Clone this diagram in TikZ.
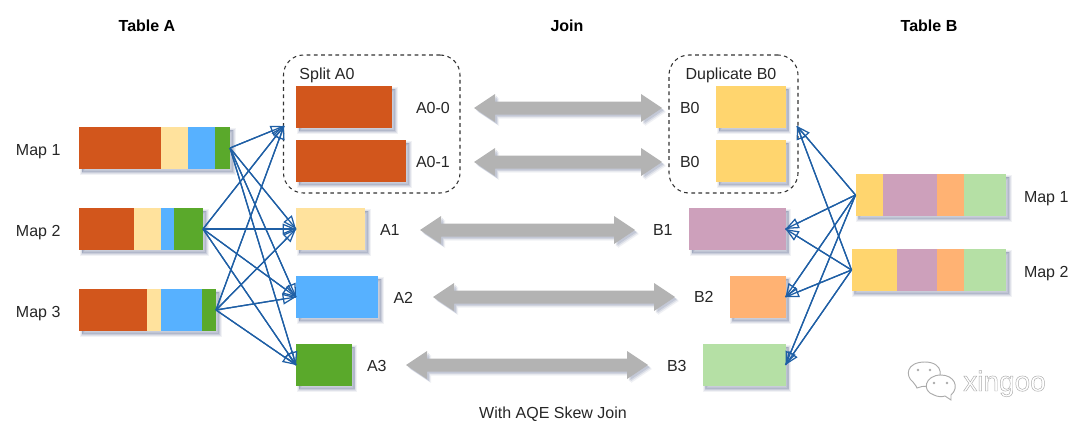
\documentclass[tikz,border=0pt]{standalone}
\usepackage{fontspec}
\setmainfont{Liberation Sans}
\usetikzlibrary{arrows.meta,calc}
\definecolor{cred}{HTML}{D2561C}
\definecolor{ccream}{HTML}{FFE29D}
\definecolor{cblue}{HTML}{57B1FF}
\definecolor{cgreen}{HTML}{5AA92B}
\definecolor{cyellow}{HTML}{FFD56E}
\definecolor{cmauve}{HTML}{CDA0BB}
\definecolor{corange}{HTML}{FFB273}
\definecolor{clgreen}{HTML}{B5E0A5}
\definecolor{cgray}{HTML}{B3B3B3}
\definecolor{clink}{HTML}{1F5FA5}
\definecolor{cshadow}{HTML}{3A4A78}
\definecolor{cmark}{HTML}{ABABAB}
\tikzset{
  softshadow/.style={
    preaction={fill=cshadow,fill opacity=.07,draw=cshadow,draw opacity=.07,line width=3.6pt,transform canvas={shift={(2.4pt,-2.4pt)}}},
    preaction={fill=cshadow,fill opacity=.10,draw=cshadow,draw opacity=.10,line width=2pt,transform canvas={shift={(2.4pt,-2.4pt)}}},
    preaction={fill=cshadow,fill opacity=.13,draw=cshadow,draw opacity=.13,line width=.6pt,transform canvas={shift={(2.2pt,-2.2pt)}}}},
  blk/.style={inner sep=0pt,outer sep=0pt,draw=none},
  lab/.style={inner sep=0pt,outer sep=0pt,font=\fontsize{12pt}{14pt}\selectfont,text=black!85},
  title/.style={inner sep=0pt,outer sep=0pt,font=\fontsize{12pt}{14pt}\selectfont\bfseries,text=black},
  groupbox/.style={draw=black!80,line width=.8pt,dash pattern=on 2.8pt off 2.6pt,rounded corners=15pt,inner sep=0pt,outer sep=0pt},
  link/.style={draw=clink,line width=.95pt,preaction={draw=clink,line width=.95pt,-},
    -{Triangle[open,length=10pt,width=8pt,line width=.95pt]}},
  joinarrow/.style={fill=cgray,draw=none,
    preaction={fill=cshadow,fill opacity=.08,transform canvas={shift={(3pt,-3pt)}}},
    preaction={fill=cshadow,fill opacity=.12,transform canvas={shift={(2.2pt,-2.2pt)}}},
    preaction={fill=cshadow,fill opacity=.14,transform canvas={shift={(1.4pt,-1.4pt)}}}}
}
\newcommand{\mkblk}[7]{%
  \pgfmathsetmacro{\blkw}{(#4-#2)*.75}%
  \pgfmathsetmacro{\blkh}{(#5-#3)*.75}%
  \node[blk,fill=#6,minimum width=\blkw pt,minimum height=\blkh pt,#7] (#1) at ({(#2+#4)/2},{(#3+#5)/2}) {};}
\newcommand{\joinarr}[2]{%
  \path[joinarrow] (#1) -- ($(#1)+(21,-14)$) -- ($(#1)+(21,-6.5)$) -- ($(#2)+(-21,-6.5)$) -- ($(#2)+(-21,-14)$)
    -- (#2) -- ($(#2)+(-21,14)$) -- ($(#2)+(-21,6.5)$) -- ($(#1)+(21,6.5)$) -- ($(#1)+(21,14)$) -- cycle;}
\begin{document}
\begin{tikzpicture}[x=.75pt,y=-.75pt]
\useasboundingbox (0,0) rectangle (1080,432);

% titles
\node[title,anchor=base] (ttA) at (147,31.5) {Table A};
\node[title,anchor=base] (ttJ) at (567,31.5) {Join};
\node[title,anchor=base] (ttB) at (929,31.5) {Table B};
\node[lab,anchor=base] (cap) at (553,418) {With AQE Skew Join};

% group boxes
\mkblk{splitbox}{283.5}{55}{460}{193}{none}{groupbox}
\mkblk{dupbox}{669}{55}{798}{193}{none}{groupbox}
\node[lab,anchor=base] (splitlab) at (327,79.5) {Split A0};
\node[lab,anchor=base] (duplab) at (731,79.5) {Duplicate B0};
\coordinate (splitin) at (284,126);
\coordinate (dupin) at (797,126);

% left maps
\mkblk{mlA}{79}{127}{230}{169}{white}{softshadow}
\mkblk{mlAa}{79}{127}{160.5}{169}{cred}{}
\mkblk{mlAb}{160.5}{127}{188}{169}{ccream}{}
\mkblk{mlAc}{188}{127}{215}{169}{cblue}{}
\mkblk{mlAd}{215}{127}{230}{169}{cgreen}{}
\mkblk{mlB}{79}{208}{203}{250}{white}{softshadow}
\mkblk{mlBa}{79}{208}{133.5}{250}{cred}{}
\mkblk{mlBb}{133.5}{208}{161}{250}{ccream}{}
\mkblk{mlBc}{161}{208}{174}{250}{cblue}{}
\mkblk{mlBd}{174}{208}{203}{250}{cgreen}{}
\mkblk{mlC}{79}{289}{216}{331}{white}{softshadow}
\mkblk{mlCa}{79}{289}{147}{331}{cred}{}
\mkblk{mlCb}{147}{289}{161}{331}{ccream}{}
\mkblk{mlCc}{161}{289}{202}{331}{cblue}{}
\mkblk{mlCd}{202}{289}{216}{331}{cgreen}{}
\node[lab,anchor=base west] (lmA) at (16,155) {Map 1};
\node[lab,anchor=base west] (lmB) at (16,236.5) {Map 2};
\node[lab,anchor=base west] (lmC) at (16,317.5) {Map 3};

% A partitions
\mkblk{azero}{296}{86}{392}{128}{cred}{softshadow}
\mkblk{aone}{296}{140}{406}{182}{cred}{softshadow}
\mkblk{aA}{296}{208}{365}{250}{ccream}{softshadow}
\mkblk{aB}{296}{276}{378}{318}{cblue}{softshadow}
\mkblk{aC}{296}{344}{351.5}{386}{cgreen}{softshadow}
\node[lab,anchor=west] (lazero) at (416,108) {A0-0};
\node[lab,anchor=west] (laone) at (416,162) {A0-1};
\node[lab,anchor=west] (laA) at (380,230) {A1};
\node[lab,anchor=west] (laB) at (393.5,298) {A2};
\node[lab,anchor=west] (laC) at (367,366) {A3};

% B partitions
\mkblk{bzero}{716}{86}{785.5}{128}{cyellow}{softshadow}
\mkblk{bone}{716}{140}{785.5}{182}{cyellow}{softshadow}
\mkblk{bA}{689}{208}{785.5}{250}{cmauve}{softshadow}
\mkblk{bB}{729.5}{276}{785.5}{318}{corange}{softshadow}
\mkblk{bC}{702.5}{344}{785.5}{386}{clgreen}{softshadow}
\node[lab,anchor=west] (lbzero) at (680,108) {B0};
\node[lab,anchor=west] (lbone) at (680,162) {B0};
\node[lab,anchor=west] (lbA) at (653,230) {B1};
\node[lab,anchor=west] (lbB) at (694,297) {B2};
\node[lab,anchor=west] (lbC) at (667,366) {B3};

% right maps
\mkblk{mrA}{855.5}{174}{1006}{216}{white}{softshadow}
\mkblk{mrAa}{855.5}{174}{883}{216}{cyellow}{}
\mkblk{mrAb}{883}{174}{936.5}{216}{cmauve}{}
\mkblk{mrAc}{936.5}{174}{964}{216}{corange}{}
\mkblk{mrAd}{964}{174}{1006}{216}{clgreen}{}
\mkblk{mrB}{851.5}{249}{1006}{291}{white}{softshadow}
\mkblk{mrBa}{851.5}{249}{896.5}{291}{cyellow}{}
\mkblk{mrBb}{896.5}{249}{936.5}{291}{cmauve}{}
\mkblk{mrBc}{936.5}{249}{964}{291}{corange}{}
\mkblk{mrBd}{964}{249}{1006}{291}{clgreen}{}
\node[lab,anchor=base west] (rmA) at (1024,202) {Map 1};
\node[lab,anchor=base west] (rmB) at (1024,277) {Map 2};

% join arrows
\coordinate (jzl) at (474,108); \coordinate (jzr) at (662,108);
\coordinate (jol) at (474,162); \coordinate (jor) at (662,162);
\coordinate (jal) at (420,230); \coordinate (jar) at (635,230);
\coordinate (jbl) at (433,297); \coordinate (jbr) at (675,297);
\coordinate (jcl) at (406,365); \coordinate (jcr) at (648,365);
\joinarr{jzl}{jzr}
\joinarr{jol}{jor}
\joinarr{jal}{jar}
\joinarr{jbl}{jbr}
\joinarr{jcl}{jcr}

% shuffle links
\foreach \src in {mlAd,mlBd,mlCd}{
  \draw[link] (\src.east) -- (splitin);
  \draw[link] (\src.east) -- (aA.west);
  \draw[link] (\src.east) -- (aB.west);
  \draw[link] (\src.east) -- (aC.west);
}
\foreach \src in {mrAa,mrBa}{
  \draw[link] (\src.west) -- (dupin);
  \draw[link] (\src.west) -- (bA.east);
  \draw[link] (\src.west) -- (bB.east);
  \draw[link] (\src.west) -- (bC.east);
}

% watermark
\draw[cmark,line width=.7pt,fill=white]
  (916,386) -- (913,382) .. controls (905,376) and (906,362) .. (925,362)
  .. controls (944,362) and (945,380) .. (930,386) -- (922,386.5) -- (917,388) -- cycle;
\draw[cmark,line width=.7pt,fill=white]
  (951,395) .. controls (960,387) and (954,375) .. (941,375)
  .. controls (925,375) and (921,391) .. (934,395) .. controls (938,397) and (942,397) .. (945,396)
  -- (951,400) -- cycle;
\foreach \p in {(918,370),(930,370),(934,383),(947,383)}{\fill[cmark] \p circle (1.4);}
\node[inner sep=0pt,anchor=base west,text=cmark] (wm) at (963,391)
  {\fontsize{21pt}{24pt}\selectfont\special{pdf:code 1 Tr 0.35 w}xingoo\special{pdf:code 0 Tr}};
\end{tikzpicture}
\end{document}
